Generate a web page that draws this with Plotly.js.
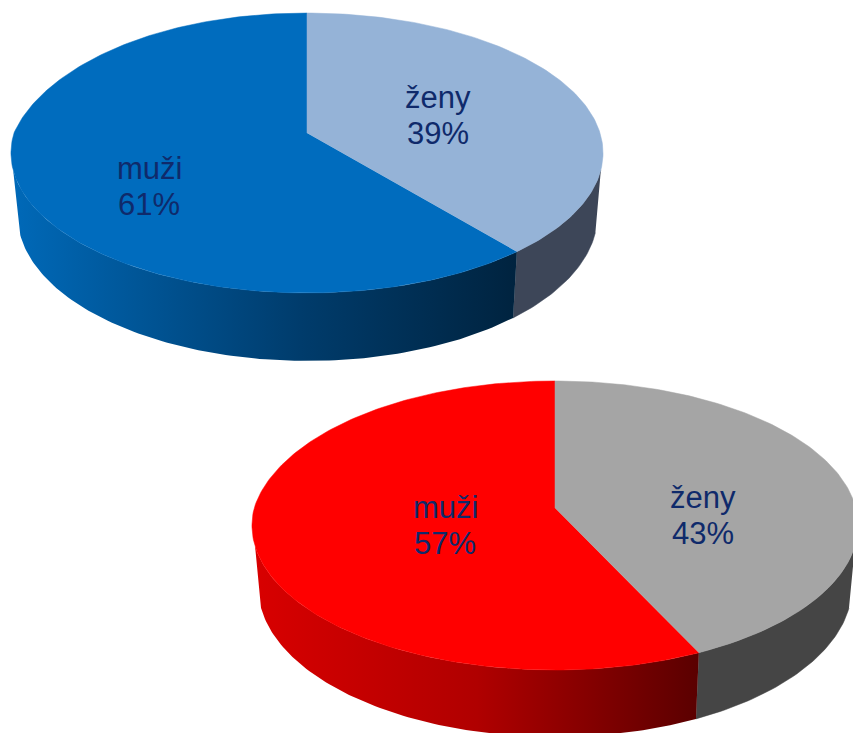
<!DOCTYPE html>
<html>
<head>
<meta charset="utf-8">
<script src="https://cdn.plot.ly/plotly-3.0.1.min.js"></script>
<style>html,body{margin:0;padding:0;background:#fff}#chart{width:853px;height:733px}</style>
</head>
<body>
<div id="chart"></div>
<script>
// --- data ---
const categories = ['ženy', 'muži'];
const valuesBlue = [39, 61];
const valuesRed = [43, 57];

// --- appearance of each pie ---
const bluePie = {
  values: valuesBlue,
  k: 0.1429,
  top: {cx: 307, cy: 133, sx: 293, sy: 137.1, pinch: 9},
  low: {cx: 307.5, cy: 194.3, sx: 287, sy: 142.8, pinch: 0},
  topColors: ['#95B3D7', '#006CBE'],
  womenSide: '#3D4658',
  menSide: [[0, '#0069B8'], [0.57, '#003C6C'], [1, '#00233F']],
  labels: [{x: 438, y1: 97, y2: 133}, {x: 149, y1: 168, y2: 204}]
};
const redPie = {
  values: valuesRed,
  k: 0.1211,
  top: {cx: 555, cy: 508, sx: 300.8, sy: 142.4, pinch: 4},
  low: {cx: 555, cy: 568.5, sx: 294.8, sy: 148, pinch: 0},
  topColors: ['#A5A5A5', '#FF0000'],
  womenSide: '#454545',
  menSide: [[0, '#D80000'], [0.5, '#B00000'], [1, '#5A0000']],
  labels: [{x: 702.5, y1: 497, y2: 533}, {x: 445, y1: 507, y2: 543}]
};

const SIDE_FROM = 105, SIDE_TO = 255, STEP = 1;
const textColor = '#0F2A6B';

function project(rim, k, deg) {
  const t = deg * Math.PI / 180, u = Math.sin(t), v = Math.cos(t), w = 1 + k * v;
  // the reference's upper-left quadrant sits slightly inside a true ellipse
  const f = (deg - 270) / 90;
  const pinch = f > 0 && f < 1 ? rim.pinch * Math.sin(Math.PI * f) * (1 - f) : 0;
  return [rim.cx + rim.sx * u / w + pinch, rim.cy - rim.sy * v / w];
}
function arc(rim, k, a, b) {
  const pts = [], n = Math.max(2, Math.ceil(Math.abs(b - a) / STEP));
  for (let i = 0; i <= n; i++) pts.push(project(rim, k, a + (b - a) * i / n));
  return pts;
}
function poly(pts, extra) {
  return Object.assign({
    x: pts.map(p => p[0]), y: pts.map(p => p[1]),
    type: 'scatter', mode: 'lines', fill: 'toself', hoverinfo: 'skip', showlegend: false
  }, extra);
}
function pieTraces(p) {
  const total = p.values[0] + p.values[1];
  const split = 360 * p.values[0] / total;
  const side = (a, b) => arc(p.top, p.k, a, b).concat(arc(p.low, p.k, b, a));
  return [
    poly(side(SIDE_FROM, split), {fillcolor: p.womenSide, line: {color: p.womenSide, width: 0.5}}),
    poly(side(split, SIDE_TO), {
      fillgradient: {type: 'horizontal', colorscale: p.menSide},
      line: {width: 0}
    }),
    poly([[p.top.cx, p.top.cy]].concat(arc(p.top, p.k, split, 360)), {fillcolor: p.topColors[1], line: {color: p.topColors[1], width: 0.5}}),
    poly([[p.top.cx, p.top.cy]].concat(arc(p.top, p.k, 0, split)), {fillcolor: p.topColors[0], line: {color: p.topColors[0], width: 0.5}})
  ];
}
function pieAnnotations(p) {
  const out = [];
  const base = {xref: 'x', yref: 'y', showarrow: false, xanchor: 'center', yanchor: 'middle',
    font: {family: '"Liberation Sans", Arial, sans-serif', size: 31, color: textColor}};
  p.labels.forEach((l, i) => {
    out.push(Object.assign({}, base, {x: l.x, y: l.y1, text: categories[i]}));
    out.push(Object.assign({}, base, {x: l.x, y: l.y2, text: p.values[i] + '%'}));
  });
  return out;
}

const hidden = {visible: false, fixedrange: true, showgrid: false, zeroline: false};
Plotly.newPlot('chart',
  pieTraces(bluePie).concat(pieTraces(redPie)),
  {
    width: 853, height: 733,
    margin: {l: 0, r: 0, t: 0, b: 0},
    paper_bgcolor: '#FFFFFF', plot_bgcolor: '#FFFFFF',
    showlegend: false,
    xaxis: Object.assign({range: [0, 853]}, hidden),
    yaxis: Object.assign({range: [733, 0]}, hidden),
    annotations: pieAnnotations(bluePie).concat(pieAnnotations(redPie))
  },
  {displayModeBar: false, staticPlot: true}
);
</script>
</body>
</html>
